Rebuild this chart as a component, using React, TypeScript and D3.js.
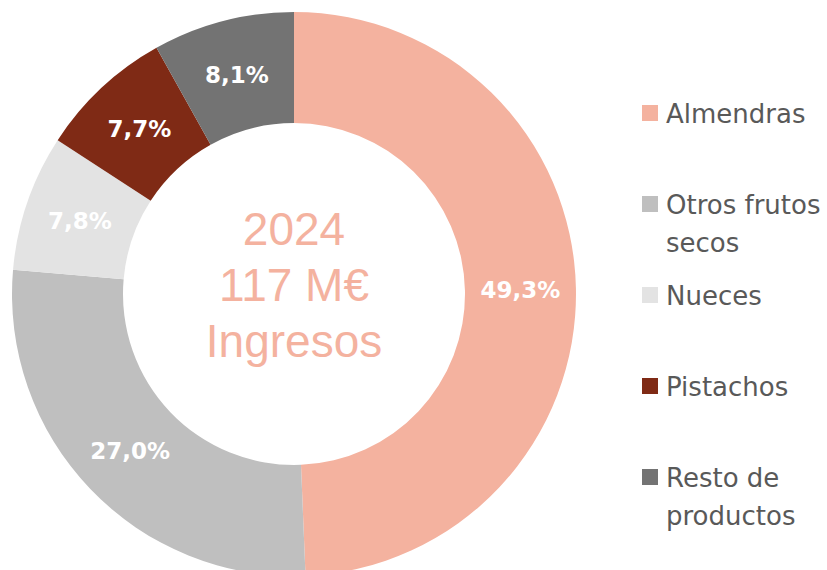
import React from 'react';
import * as d3 from 'd3';

const categories = ['Almendras', 'Otros frutos secos', 'Nueces', 'Pistachos', 'Resto de productos'];
const shares = [49.3, 27.0, 7.8, 7.7, 8.1];
const colors = ['#F4B29F', '#BFBFBF', '#E3E3E3', '#7F2A15', '#737373'];
// legend text split into lines as in the original
const legendLines = [['Almendras'], ['Otros frutos', 'secos'], ['Nueces'], ['Pistachos'], ['Resto de', 'productos']];
const centerLines = ['2024', '117 M€', 'Ingresos'];

const W = 827;
const H = 570;

export default function App() {
  const cx = 294; // centre of the donut
  const cy = 294;
  const outerR = 282;
  const innerR = 171;

  const pie = d3.pie<number>().sort(null).value(d => d)(shares);
  const arc = d3.arc<d3.PieArcDatum<number>>().innerRadius(innerR).outerRadius(outerR);

  const fmt = (v: number) => v.toFixed(1).replace('.', ',') + '%';

  // legend rows: square centre y for each entry
  const legendY = d3.scalePoint<number>().domain(d3.range(categories.length)).range([113, 477]);

  return (
    <>
      <style>{'body{margin:0}'}</style>
      <svg width={W} height={H} style={{ display: 'block' }}>
        <g transform={`translate(${cx},${cy})`}>
          {pie.map((d, i) => (
            <path key={categories[i]} d={arc(d) || ''} fill={colors[i]} />
          ))}
          {pie.map((d, i) => {
            const [x, y] = arc.centroid(d);
            return (
              <text
                key={'l' + i}
                x={x}
                y={y}
                dy="0.36em"
                textAnchor="middle"
                fontFamily="'DejaVu Sans', sans-serif"
                fontWeight="bold"
                fontSize={23}
                fill="#FFFFFF"
              >
                {fmt(shares[i])}
              </text>
            );
          })}
          {centerLines.map((t, i) => (
            <text
              key={t}
              x={0}
              y={-49 + i * 56}
              textAnchor="middle"
              fontFamily="'Liberation Sans', Arial, sans-serif"
              fontSize={46}
              fill="#F4B29F"
            >
              {t}
            </text>
          ))}
        </g>
        <g>
          {categories.map((c, i) => {
            const y = legendY(i) as number;
            return (
              <g key={c}>
                <rect x={642} y={y - 8} width={16} height={16} fill={colors[i]} />
                {legendLines[i].map((line, j) => (
                  <text
                    key={line}
                    x={666}
                    y={y + 10 + j * 38}
                    fontFamily="'DejaVu Sans', sans-serif"
                    fontSize={26}
                    fill="#595959"
                  >
                    {line}
                  </text>
                ))}
              </g>
            );
          })}
        </g>
      </svg>
    </>
  );
}
